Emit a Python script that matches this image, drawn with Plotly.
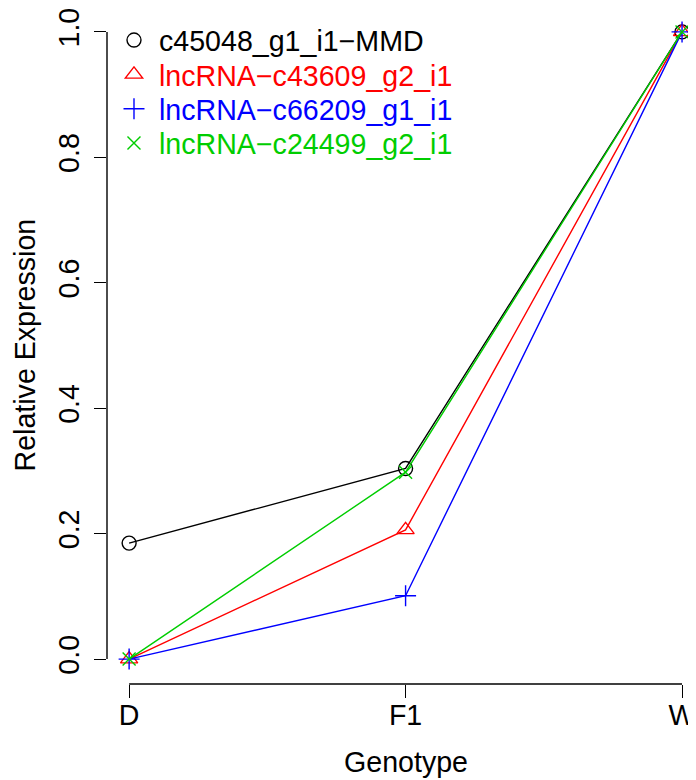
import plotly.graph_objects as go

genotypes = ["D", "F1", "W"]
x_pos = [1, 2, 3]
series_names = ["c45048_g1_i1\u2212MMD", "lncRNA\u2212c43609_g2_i1",
                "lncRNA\u2212c66209_g1_i1", "lncRNA\u2212c24499_g2_i1"]
mmd = [0.185, 0.304, 1.0]
c43609 = [0.0, 0.206, 1.0]
c66209 = [0.0, 0.101, 1.0]
c24499 = [0.0, 0.298, 1.0]
y_ticks = [0.0, 0.2, 0.4, 0.6, 0.8, 1.0]

values = [mmd, c43609, c66209, c24499]
colors = ["#000000", "#FF0000", "#0000FF", "#00CD00"]
symbols = ["circle-open", "triangle-up-open", "cross-thin-open", "x-thin-open"]
sizes = [14, 15, 15, 13]

FONT = "Liberation Sans, Arial, sans-serif"
FS = 28.6
W, H = 688, 772
L, R, T, B = 99, 0, 0, 96
plot_h = H - T - B

fig = go.Figure()
for name, vals, col, sym, sz in zip(series_names, values, colors, symbols, sizes):
    fig.add_trace(go.Scatter(
        x=x_pos, y=vals, mode="lines+markers", showlegend=False,
        line=dict(color=col, width=1.4),
        marker=dict(symbol=sym, size=sz, color=col, line=dict(color=col, width=1.4)),
    ))

legend_tops = [4, 38.5, 73, 107.5]
legend_cfg = {}
for i, (name, col, sym, sz) in enumerate(zip(series_names, colors, symbols, sizes)):
    key = "legend" if i == 0 else f"legend{i + 1}"
    fig.add_trace(go.Scatter(
        x=[None], y=[None], mode="markers", legend=key,
        name=f'<span style="color:{col}">{name}</span>',
        marker=dict(symbol=sym, size=sz, color=col, line=dict(color=col, width=1.4)),
    ))
    legend_cfg[key] = dict(x=2 / (W - L - R), y=1 - legend_tops[i] / plot_h,
                           xanchor="left", yanchor="top",
                           bgcolor="rgba(0,0,0,0)", itemwidth=40,
                           font=dict(size=FS, family=FONT))

fig.update_layout(
    width=W, height=H,
    margin=dict(l=L, r=R, t=T, b=B),
    paper_bgcolor="white", plot_bgcolor="white",
    font=dict(family=FONT, size=FS, color="black"),
    showlegend=True,
    xaxis=dict(range=[0.92, 3 + 12 / 277.5], tickvals=x_pos, ticktext=genotypes,
               showgrid=False, zeroline=False, showline=False,
               ticks="outside", ticklen=13, tickwidth=1.4, tickcolor="black",
               ticklabelstandoff=-7, ticklabeloverflow="allow",
               tickfont=dict(size=FS, family=FONT)),
    yaxis=dict(range=[-25 / 630, 1 + 21 / 630], tickvals=y_ticks, tickformat=".1f",
               tickangle=-90,
               showgrid=False, zeroline=False, showline=False,
               ticks="outside", ticklen=12, tickwidth=1.4, tickcolor="black",
               ticklabelstandoff=4, ticklabeloverflow="allow",
               tickfont=dict(size=FS, family=FONT)),
    shapes=[
        dict(type="line", xref="paper", yref="y", x0=0, x1=0, y0=0, y1=1,
             line=dict(color="black", width=1.4)),
        dict(type="line", xref="x", yref="paper", x0=1, x1=3, y0=0, y1=0,
             line=dict(color="black", width=1.4)),
    ],
    annotations=[
        dict(text="Relative Expression", xref="paper", yref="y", x=0, y=0.5,
             xanchor="center", yanchor="middle", xshift=-82, textangle=-90,
             showarrow=False, font=dict(size=FS, family=FONT)),
        dict(text="Genotype", xref="x", yref="paper", x=2, y=0,
             xanchor="center", yanchor="middle", yshift=-78,
             showarrow=False, font=dict(size=FS, family=FONT)),
    ],
    **legend_cfg,
)
fig.write_html("out.html")
